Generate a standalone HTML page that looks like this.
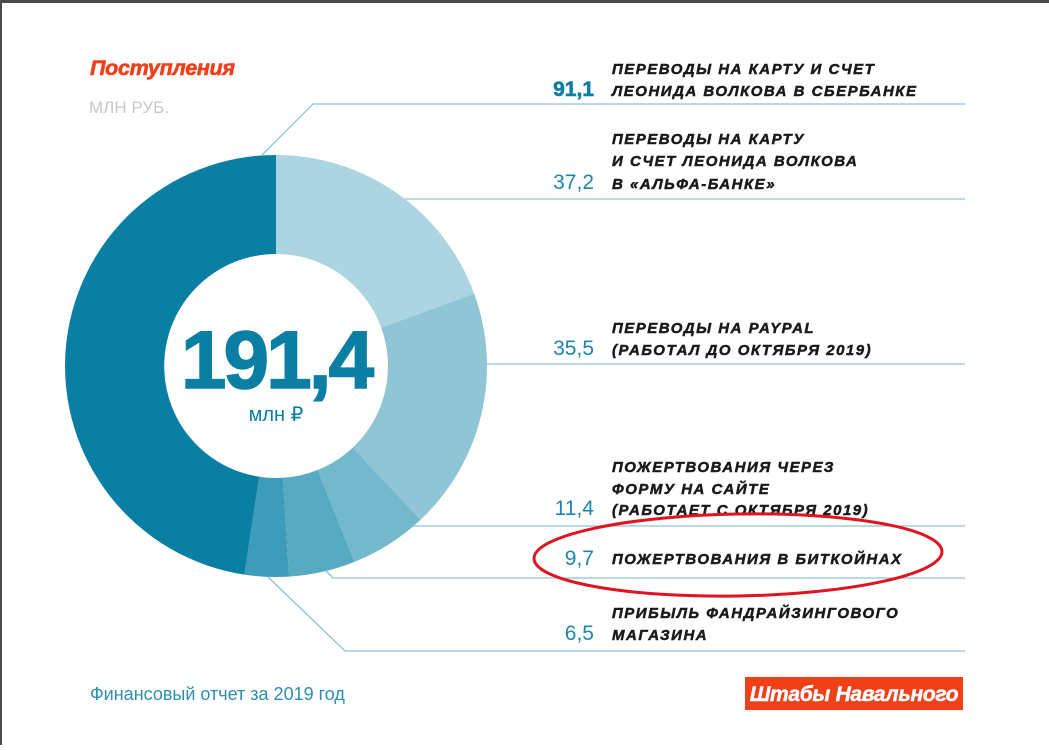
<!DOCTYPE html>
<html><head><meta charset="utf-8"><style>
body{margin:0;width:1049px;height:745px;overflow:hidden;background:#fff;font-family:"Liberation Sans",sans-serif}
.t{font-weight:bold;font-style:italic;font-size:15px;letter-spacing:1.5px;fill:#1a1a1a;stroke:#1a1a1a;stroke-width:0.5}
.n{font-size:21px;fill:#1f86aa}
</style></head><body>
<svg width="1049" height="745" xmlns="http://www.w3.org/2000/svg">
<rect width="1049" height="745" fill="#fff"/>
<rect x="0" y="0" width="1049" height="3" fill="#4a4a4a"/>
<rect x="0" y="0" width="2" height="745" fill="#4a4a4a"/>
<text x="90" y="75" font-size="21.5" font-weight="bold" font-style="italic" fill="#f0401a" stroke="#f0401a" stroke-width="0.6" letter-spacing="-0.3">Поступления</text>
<text x="89" y="113" font-size="17" fill="#c8c8c8">МЛН РУБ.</text>
<g stroke="none">
<path d="M276,155 A211,211 0 0 1 474.2,293.7 L381.2,327.6 A112,112 0 0 0 276,254 Z" fill="#acd4e1"/>
<path d="M474.2,293.7 A211,211 0 0 1 420.6,519.7 L352.7,447.6 A112,112 0 0 0 381.2,327.6 Z" fill="#90c5d5"/>
<path d="M420.6,519.7 A211,211 0 0 1 354.4,561.9 L317.6,470 A112,112 0 0 0 352.7,447.6 Z" fill="#74b8cc"/>
<path d="M354.4,561.9 A211,211 0 0 1 289.1,576.6 L283,477.8 A112,112 0 0 0 317.6,470 Z" fill="#58aac3"/>
<path d="M289.1,576.6 A211,211 0 0 1 244.3,574.6 L259.2,476.7 A112,112 0 0 0 283,477.8 Z" fill="#3d9cba"/>
<path d="M244.3,574.6 A211,211 0 0 1 276,155 L276,254 A112,112 0 0 0 259.2,476.7 Z" fill="#0a7fa3"/>
</g>
<g stroke="#8cc3d4" stroke-width="1.3" fill="none">
<polyline points="262,155 313,104 965,104"/>
<polyline points="405,199 965,199"/>
<polyline points="487,364 965,364"/>
<polyline points="413,526 965,526"/>
<polyline points="326,571 333,578 965,578"/>
<polyline points="268,577 345,651 965,651"/>
</g>
<text x="276" y="388" text-anchor="middle" font-size="82" font-weight="bold" fill="#0a7fa3" stroke="#0a7fa3" stroke-width="1.5" letter-spacing="-3">191,4</text>
<text x="276" y="421" text-anchor="middle" font-size="20" fill="#0a7fa3">млн ₽</text>
<text x="594" y="96" text-anchor="end" font-size="21" font-weight="bold" fill="#0a7fa3" stroke="#0a7fa3" stroke-width="0.6">91,1</text>
<text x="612" y="74" class="t">ПЕРЕВОДЫ НА КАРТУ И СЧЕТ</text>
<text x="612" y="96" class="t">ЛЕОНИДА ВОЛКОВА В СБЕРБАНКЕ</text>
<text x="594" y="189" text-anchor="end" class="n">37,2</text>
<text x="612" y="144" class="t">ПЕРЕВОДЫ НА КАРТУ</text>
<text x="612" y="166" class="t">И СЧЕТ ЛЕОНИДА ВОЛКОВА</text>
<text x="612" y="189" class="t">В «АЛЬФА-БАНКЕ»</text>
<text x="594" y="355" text-anchor="end" class="n">35,5</text>
<text x="612" y="333" class="t">ПЕРЕВОДЫ НА PAYPAL</text>
<text x="612" y="355" class="t">(РАБОТАЛ ДО ОКТЯБРЯ 2019)</text>
<text x="594" y="515" text-anchor="end" class="n">11,4</text>
<text x="612" y="472" class="t">ПОЖЕРТВОВАНИЯ ЧЕРЕЗ</text>
<text x="612" y="494" class="t">ФОРМУ НА САЙТЕ</text>
<text x="612" y="515" class="t">(РАБОТАЕТ С ОКТЯБРЯ 2019)</text>
<text x="594" y="565" text-anchor="end" class="n">9,7</text>
<text x="612" y="564" class="t">ПОЖЕРТВОВАНИЯ В БИТКОЙНАХ</text>
<text x="594" y="640" text-anchor="end" class="n">6,5</text>
<text x="612" y="618" class="t">ПРИБЫЛЬ ФАНДРАЙЗИНГОВОГО</text>
<text x="612" y="640" class="t">МАГАЗИНА</text>
<ellipse cx="738" cy="555" rx="204" ry="41" fill="none" stroke="#e0141e" stroke-width="3" transform="rotate(-1 738 555)"/>
<text x="90" y="700" font-size="18" fill="#2a8fb0">Финансовый отчет за 2019 год</text>
<rect x="745" y="677" width="218" height="33" fill="#f0401a"/>
<text x="854" y="701" text-anchor="middle" font-size="21" font-weight="bold" font-style="italic" fill="#fff" stroke="#fff" stroke-width="0.5" letter-spacing="-0.3">Штабы Навального</text>
</svg>
</body></html>
